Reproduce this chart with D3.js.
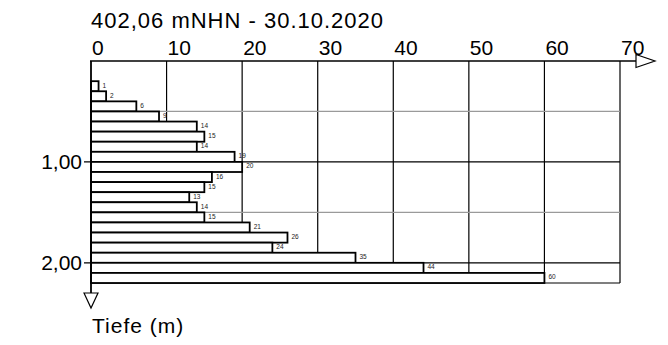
<!DOCTYPE html>
<html>
<head>
<meta charset="utf-8">
<script src="https://cdn.jsdelivr.net/npm/d3@7"></script>
<style>
  body { margin: 0; background: #fff; }
  svg { display: block; font-family: "Liberation Sans", Arial, sans-serif; }
</style>
</head>
<body>
<div id="chart"></div>
<script>
// blows per 10 cm, one bar per depth step (top / bottom in m)
var depthFrom = [0.2, 0.3, 0.4, 0.5, 0.6, 0.7, 0.8, 0.9, 1.0, 1.1, 1.2, 1.3, 1.4, 1.5, 1.6, 1.7, 1.8, 1.9, 2.0, 2.1];
var depthTo   = [0.3, 0.4, 0.5, 0.6, 0.7, 0.8, 0.9, 1.0, 1.1, 1.2, 1.3, 1.4, 1.5, 1.6, 1.7, 1.8, 1.9, 2.0, 2.1, 2.2];
var blows     = [1, 2, 6, 9, 14, 15, 14, 19, 20, 16, 15, 13, 14, 15, 21, 26, 24, 35, 44, 60];

var xTicks = [0, 10, 20, 30, 40, 50, 60, 70];
var yTicks = [1.0, 2.0];
var yMinor = [0.5, 1.5];
var yTickLabels = ["1,00", "2,00"];
var title = "402,06 mNHN - 30.10.2020";
var yTitle = "Tiefe (m)";

var width = 668, height = 345;

var svg = d3.select("#chart").append("svg")
    .attr("width", width)
    .attr("height", height);

var x = d3.scaleLinear().domain([0, 70]).range([91, 620]);
var y = d3.scaleLinear().domain([0, 2.2]).range([61, 283]);

// grid
svg.selectAll(".vgrid")
    .data(xTicks.slice(1))
    .enter().append("line")
        .attr("x1", d => x(d)).attr("x2", d => x(d))
        .attr("y1", y(0)).attr("y2", y(2.2))
        .attr("stroke", "#000").attr("stroke-width", 1.2);

svg.selectAll(".minor")
    .data(yMinor)
    .enter().append("line")
        .attr("x1", x(0)).attr("x2", x(70))
        .attr("y1", d => y(d)).attr("y2", d => y(d))
        .attr("stroke", "#9a9a9a").attr("stroke-width", 1.2);

svg.selectAll(".major")
    .data(yTicks.concat([2.2]))
    .enter().append("line")
        .attr("x1", d => d == 2.2 ? x(0) : x(0) - 7).attr("x2", x(70))
        .attr("y1", d => y(d)).attr("y2", d => y(d))
        .attr("stroke", "#000").attr("stroke-width", 1.2);

// bars
svg.selectAll(".bar")
    .data(blows)
    .enter().append("rect")
        .attr("x", x(0))
        .attr("y", (d, i) => y(depthFrom[i]))
        .attr("width", d => x(d) - x(0))
        .attr("height", (d, i) => y(depthTo[i]) - y(depthFrom[i]))
        .attr("fill", "#fff")
        .attr("stroke", "#000")
        .attr("stroke-width", 1.8);

svg.selectAll(".blabel")
    .data(blows)
    .enter().append("text")
        .attr("x", d => x(d) + 4)
        .attr("y", (d, i) => (y(depthFrom[i]) + y(depthTo[i])) / 2 + 1.5)
        .attr("font-size", 6.5)
        .attr("fill", "#222")
        .text(d => d);

// top axis with arrow
svg.append("line")
    .attr("x1", x(0) - 1).attr("x2", 636)
    .attr("y1", y(0)).attr("y2", y(0))
    .attr("stroke", "#000").attr("stroke-width", 1.5);
svg.append("path")
    .attr("d", "M636," + (y(0) - 6.5) + "L655," + y(0) + "L636," + (y(0) + 6.5) + "Z")
    .attr("fill", "#fff").attr("stroke", "#000").attr("stroke-width", 1.2);

svg.selectAll(".xlabel")
    .data(xTicks)
    .enter().append("text")
        .attr("x", d => x(d) + 1)
        .attr("y", 55)
        .attr("font-size", 21)
        .text(d => d);

// left axis with arrow
svg.append("line")
    .attr("x1", x(0)).attr("x2", x(0))
    .attr("y1", y(0)).attr("y2", 293)
    .attr("stroke", "#000").attr("stroke-width", 1.8);
svg.append("path")
    .attr("d", "M" + (x(0) - 7) + ",293L" + x(0) + ",308L" + (x(0) + 7) + ",293Z")
    .attr("fill", "#fff").attr("stroke", "#000").attr("stroke-width", 1.2);

svg.selectAll(".ylabel")
    .data(yTicks)
    .enter().append("text")
        .attr("x", 82)
        .attr("y", d => y(d) + 7)
        .attr("text-anchor", "end")
        .attr("font-size", 21)
        .text((d, i) => yTickLabels[i]);

svg.append("text")
    .attr("x", 91).attr("y", 28)
    .attr("font-size", 22)
    .attr("letter-spacing", 1)
    .text(title);

svg.append("text")
    .attr("x", 92).attr("y", 333)
    .attr("font-size", 21)
    .attr("letter-spacing", 1)
    .text(yTitle);
</script>
</body>
</html>
